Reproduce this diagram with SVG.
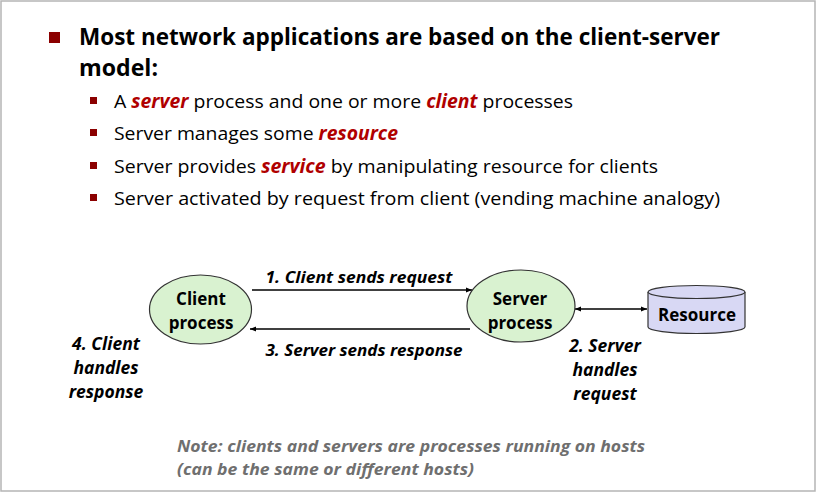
<svg xmlns="http://www.w3.org/2000/svg" width="818" height="494" viewBox="0 0 818 494">
  <style>
    text { font-family: "Open Sans", "Noto Sans", sans-serif; fill: #000; }
    .title { font-size: 24px; font-weight: bold; }
    .item { font-size: 19px; }
    .em { fill: #b00000; font-weight: bold; font-style: italic; }
    .node { font-size: 17px; font-weight: bold; text-anchor: middle; }
    .lbl { font-size: 16px; font-weight: bold; font-style: italic; text-anchor: middle; }
    .step { font-size: 17.5px; font-weight: bold; font-style: italic; text-anchor: middle; }
    .note { font-size: 16px; font-weight: bold; font-style: italic; fill: #6f6f6f; }
    .proc { fill: #d9f2d0; stroke: #333; stroke-width: 1.2; }
    .edge { stroke: #000; stroke-width: 1.3; fill: none; }
    .bul { fill: #8b0000; }
  </style>
  <defs>
    <marker id="arr" viewBox="0 0 10 10" refX="10" refY="5" markerWidth="6" markerHeight="6" orient="auto-start-reverse" markerUnits="userSpaceOnUse">
      <path d="M0,1 L10,5 L0,9 z" fill="#000"/>
    </marker>
  </defs>

  <!-- frame -->
  <rect x="1" y="1" width="814" height="490" fill="#fff" stroke="#b5b5b5" stroke-width="1.5"/>

  <!-- heading -->
  <g id="heading">
    <rect class="bul" x="49" y="32" width="11" height="11"/>
    <text class="title" x="79" y="45" textLength="641" lengthAdjust="spacingAndGlyphs">Most network applications are based on the client-server</text>
    <text class="title" x="79" y="76" textLength="79" lengthAdjust="spacingAndGlyphs">model:</text>
  </g>

  <!-- bullet list -->
  <g id="bullets">
    <rect class="bul" x="90" y="97" width="7" height="7"/>
    <text class="item" x="114" y="108" textLength="459" lengthAdjust="spacingAndGlyphs">A <tspan class="em">server</tspan> process and one or more <tspan class="em">client</tspan> processes</text>
    <rect class="bul" x="90" y="129" width="7" height="7"/>
    <text class="item" x="114" y="140" textLength="284" lengthAdjust="spacingAndGlyphs">Server manages some <tspan class="em">resource</tspan></text>
    <rect class="bul" x="90" y="162" width="7" height="7"/>
    <text class="item" x="114" y="173" textLength="544" lengthAdjust="spacingAndGlyphs">Server provides <tspan class="em">service</tspan> by manipulating resource for clients</text>
    <rect class="bul" x="90" y="194" width="7" height="7"/>
    <text class="item" x="114" y="205" textLength="606" lengthAdjust="spacingAndGlyphs">Server activated by request from client (vending machine analogy)</text>
  </g>

  <!-- connectors -->
  <g id="connectors">
    <line class="edge" x1="252" y1="290" x2="472" y2="290" marker-end="url(#arr)"/>
    <line class="edge" x1="470" y1="329" x2="250" y2="329" marker-end="url(#arr)"/>
    <line class="edge" x1="575" y1="309" x2="647" y2="309" marker-start="url(#arr)" marker-end="url(#arr)"/>
    <text class="lbl" x="359" y="283" textLength="187" lengthAdjust="spacingAndGlyphs">1. Client sends request</text>
    <text class="lbl" x="364" y="356" textLength="197" lengthAdjust="spacingAndGlyphs">3. Server sends response</text>
  </g>

  <!-- client -->
  <g id="client">
    <ellipse class="proc" cx="200.5" cy="309.5" rx="51" ry="34.5"/>
    <text class="node" x="201" y="305">Client</text>
    <text class="node" x="201" y="329">process</text>
  </g>

  <!-- server -->
  <g id="server">
    <ellipse class="proc" cx="521" cy="306" rx="54" ry="36"/>
    <text class="node" x="520" y="305">Server</text>
    <text class="node" x="520" y="329">process</text>
  </g>

  <!-- resource store -->
  <g id="resource">
    <path d="M648,292 L648,327 A48.5,6.5 0 0 0 745,327 L745,292" fill="#d8d8f4" stroke="#333" stroke-width="1.2"/>
    <ellipse cx="696.5" cy="292" rx="48.5" ry="6.5" fill="#d8d8f4" stroke="#333" stroke-width="1.2"/>
    <text class="node" x="697" y="321">Resource</text>
  </g>

  <!-- step notes -->
  <g id="server-step">
    <text class="step" x="605" y="352">2. Server</text>
    <text class="step" x="605" y="376">handles</text>
    <text class="step" x="605" y="400">request</text>
  </g>
  <g id="client-step">
    <text class="step" x="106" y="350">4. Client</text>
    <text class="step" x="106" y="374">handles</text>
    <text class="step" x="106" y="398">response</text>
  </g>

  <!-- footnote -->
  <g id="note">
    <text class="note" x="177" y="452" textLength="468" lengthAdjust="spacingAndGlyphs">Note: clients and servers are processes running on hosts</text>
    <text class="note" x="177" y="475" textLength="297" lengthAdjust="spacingAndGlyphs">(can be the same or different hosts)</text>
  </g>
</svg>
